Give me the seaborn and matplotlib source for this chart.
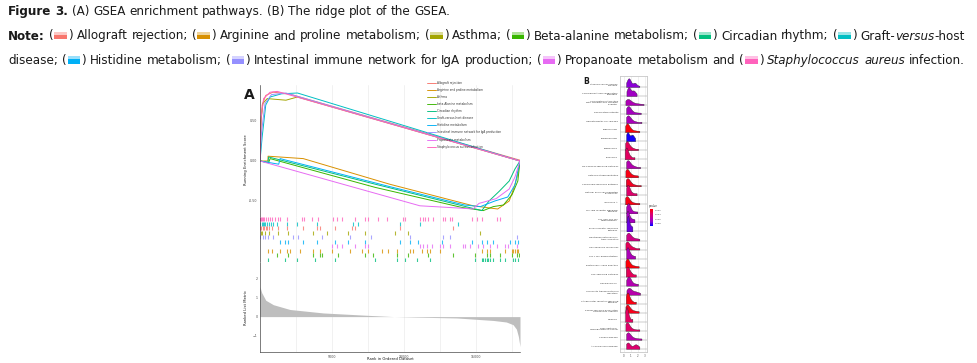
import matplotlib
matplotlib.use('Agg')
import matplotlib.pyplot as plt
import matplotlib.patches as mpatches
from matplotlib.lines import Line2D
from matplotlib.colors import LinearSegmentedColormap, Normalize, to_rgb
from matplotlib import font_manager
from matplotlib.font_manager import FontProperties
import seaborn as sns
import numpy as np
import pandas as pd

W, H = 977, 363
sns.set_theme(style='white')
plt.rcParams['font.family'] = ['DejaVu Sans']

# ---------------- data ----------------
GENE_SETS = ["Allograft rejection", "Arginine and proline metabolism", "Asthma",
             "beta-Alanine metabolism", "Circadian rhythm", "Graft-versus-host disease",
             "Histidine metabolism", "Intestinal immune network for IgA production",
             "Propanoate metabolism", "Staphylococcus aureus infection"]
SET_COLORS = ["#F8766D", "#D89000", "#A3A500", "#39B600", "#00BF7D",
              "#00BFC4", "#00B0F6", "#9590FF", "#E76BF3", "#FF62BC"]

# running enrichment score, (rank, ES)
ES_ALLOGRAFT = [(0, 0), (60, 0.45), (150, 0.70), (400, 0.82), (900, 0.86), (2000, 0.84), (18050, 0.01)]
ES_ARGININE = [(0, 0), (550, 0.0), (560, 0.06), (3000, 0.03), (9000, -0.29), (14800, -0.56),
               (16500, -0.60), (17300, -0.50), (17600, -0.35), (17850, -0.20), (18050, 0.0)]
ES_ASTHMA = [(0, 0), (70, 0.50), (200, 0.72), (500, 0.78), (1800, 0.76), (2600, 0.80), (18050, 0.0)]
ES_BETA_ALANINE = [(0, 0), (600, -0.02), (700, 0.03), (8000, -0.33), (14000, -0.58), (15500, -0.62),
                   (16200, -0.57), (16900, -0.55), (17500, -0.42), (17900, -0.25), (18050, 0.0)]
ES_CIRCADIAN = [(0, 0), (550, -0.02), (600, 0.05), (8000, -0.29), (14500, -0.58), (15400, -0.62),
                (15900, -0.50), (16600, -0.38), (17300, -0.25), (17700, -0.10), (18050, 0.0)]
ES_GRAFT = [(0, 0), (150, 0.30), (400, 0.70), (700, 0.80), (1500, 0.84), (2600, 0.85), (18050, 0.0)]
ES_HISTIDINE = [(0, 0), (1300, -0.04), (1400, 0.03), (9000, -0.32), (14200, -0.55), (15300, -0.57),
                (16300, -0.50), (17200, -0.45), (17700, -0.30), (18050, 0.0)]
ES_INTESTINAL = [(0, 0), (100, 0.35), (350, 0.72), (800, 0.83), (1800, 0.85), (18050, 0.0)]
ES_PROPANOATE = [(0, 0), (11100, -0.56), (14000, -0.59), (14800, -0.60), (15200, -0.53),
                 (16400, -0.47), (17300, -0.35), (17700, -0.20), (18050, 0.0)]
ES_STAPH = [(0, 0), (80, 0.55), (250, 0.78), (700, 0.86), (1200, 0.87), (18050, 0.0)]
ES_CURVES = [ES_ALLOGRAFT, ES_ARGININE, ES_ASTHMA, ES_BETA_ALANINE, ES_CIRCADIAN,
             ES_GRAFT, ES_HISTIDINE, ES_INTESTINAL, ES_PROPANOATE, ES_STAPH]

# gene hit positions (rank) per set
HITS_STAPH = [10, 70, 140, 210, 280, 420, 560, 690, 830, 1040, 1250, 1390, 1870, 2920, 3060, 3610, 4030,
              5070, 5350, 5700, 6600, 7290, 7500, 8190, 8820, 9930, 10070, 11110, 11320, 11460, 11670,
              12010, 12710, 12850, 13190, 13330, 14720, 15070, 15420, 16460, 16670]
HITS_GRAFT = [30, 120, 200, 300, 380, 480, 600, 750, 900, 1180, 1870, 2570, 3960, 6460, 6800, 9720,
              11110, 13750]
HITS_ALLOGRAFT = [20, 100, 190, 280, 400, 520, 650, 800, 1250, 1870, 2990, 3960, 4170, 5210, 6390, 6600,
                  9720, 13400]
HITS_ASTHMA = [40, 150, 330, 600, 1250, 1940, 3680, 4650, 6110, 7290, 9380, 10280, 15280]
HITS_INTESTINAL = [20, 180, 350, 560, 900, 2290, 2640, 4300, 6250, 7700, 10420, 12710, 13190, 17850]
HITS_HISTIDINE = [1400, 1740, 1940, 2990, 3960, 5210, 6110, 7290, 9720, 10420, 10970, 12640, 14720,
                  15420, 15760, 16180, 17360, 17710, 17920]
HITS_PROPANOATE = [5000, 5350, 5700, 6600, 7290, 7500, 11110, 11320, 11600, 11940, 12500, 12710, 13190,
                   14100, 14230, 14580, 15140, 15490, 15970, 16460, 17010, 17220, 17850]
HITS_ARGININE = [560, 830, 1390, 1870, 2080, 2780, 3680, 4170, 5000, 6250, 7080, 7500, 8470, 8890, 9510,
                 10420, 10620, 11250, 11600, 11800, 12500, 15420, 15760, 15970, 17010, 17500, 17570,
                 17710, 17850, 17920]
HITS_BETA_ALANINE = [1180, 1940, 3680, 4170, 4300, 5420, 7290, 7850, 9510, 10280, 11670, 13400, 14930,
                     15760, 15970, 16670, 17500, 17850, 18000]
HITS_CIRCADIAN = [560, 1740, 2570, 3820, 5210, 7990, 9510, 10070, 10900, 11800, 14930, 15420, 15490,
                  15620, 15760, 15830, 15970, 16180, 16670, 17010, 17570, 17710, 17920]
# rows top to bottom, as index into GENE_SETS
HIT_ROWS = [(9, HITS_STAPH), (5, HITS_GRAFT), (0, HITS_ALLOGRAFT), (2, HITS_ASTHMA),
            (7, HITS_INTESTINAL), (6, HITS_HISTIDINE), (8, HITS_PROPANOATE), (1, HITS_ARGININE),
            (3, HITS_BETA_ALANINE), (4, HITS_CIRCADIAN)]

# ranked list metric (rank, metric)
RANK_POS = [0, 115, 400, 925, 2080, 4400, 7400, 9300, 11000, 13660, 16200, 17100, 17570, 17800, 17940, 18050]
RANK_METRIC = [1.55, 1.25, 0.85, 0.62, 0.37, 0.19, 0.07, 0.0, -0.03, -0.07, -0.20, -0.28, -0.42,
               -0.65, -1.04, -1.56]

# ridge plot
PATHWAYS = ["Staphylococcus aureus\ninfection", "Complement and coagulation\ncascades",
            "Viral protein interaction\nwith cytokine and cytokine\nreceptor", "Rheumatoid arthritis",
            "Hematopoietic cell lineage", "Tuberculosis", "Leishmaniasis", "Phagosome", "Lysosome",
            "NF-kappa B signaling pathway", "Osteoclast differentiation", "Chemokine signaling pathway",
            "Natural killer cell mediated\ncytotoxicity", "Influenza A",
            "Toll-like receptor signaling\npathway", "Th1 and Th2 cell\ndifferentiation",
            "B cell receptor signaling\npathway", "Neutrophil extracellular\ntrap formation",
            "Cell adhesion molecules", "Th17 cell differentiation", "Epstein-Barr virus infection",
            "TNF signaling pathway", "Toxoplasmosis", "Leukocyte transendothelial\nmigration",
            "C-type lectin receptor signaling\npathway", "Kaposi sarcoma-associated\nherpesvirus infection",
            "Measles", "Transcriptional\nmisregulation in cancer", "Chagas disease",
            "Alcoholic liver disease"]
PVALUES = [0.0075, 0.0068, 0.0062, 0.0066, 0.0064, 0.0012, 0.0092, 0.0030, 0.0032, 0.0060,
           0.0015, 0.0018, 0.0035, 0.0014, 0.0062, 0.0066, 0.0080, 0.0045, 0.0030, 0.0063,
           0.0012, 0.0030, 0.0060, 0.0058, 0.0014, 0.0016, 0.0032, 0.0034, 0.0058, 0.0036]
CORE_FC = [
    [0.3, 0.45, 0.55, 0.6, 0.65, 0.7, 0.75, 0.8, 0.9, 1.0, 1.4, 1.5, 1.55, 1.7, 2.2],
    [0.35, 0.5, 0.6, 0.65, 0.7, 0.8, 0.9, 1.1, 1.3, 1.4, 1.5, 1.8],
    [0.2, 0.35, 0.45, 0.5, 0.6, 0.7, 0.9, 1.2, 1.6, 2.1, 2.8],
    [0.3, 0.45, 0.5, 0.55, 0.6, 0.7, 0.8, 1.0, 1.3, 1.8, 2.4],
    [0.3, 0.4, 0.5, 0.55, 0.6, 0.7, 0.9, 1.2, 1.7, 2.5],
    [0.15, 0.25, 0.3, 0.35, 0.4, 0.45, 0.5, 0.6, 0.7, 0.8, 1.0, 1.3, 1.7, 2.2],
    [0.3, 0.45, 0.5, 0.55, 0.6, 0.9, 1.1, 1.2, 1.3, 1.6],
    [0.15, 0.25, 0.3, 0.35, 0.4, 0.5, 0.6, 0.8, 1.0, 1.4, 2.0],
    [0.1, 0.2, 0.25, 0.3, 0.35, 0.45, 0.55, 0.7, 1.0, 1.5],
    [0.3, 0.4, 0.45, 0.5, 0.6, 0.7, 0.9, 1.2, 1.6, 2.3],
    [0.2, 0.3, 0.35, 0.4, 0.5, 0.6, 0.8, 1.1, 1.5, 2.0],
    [0.25, 0.35, 0.4, 0.45, 0.5, 0.6, 0.7, 0.9, 1.2, 1.7, 2.4],
    [0.3, 0.4, 0.5, 0.55, 0.6, 0.7, 0.9, 1.3, 1.8],
    [0.15, 0.25, 0.3, 0.35, 0.4, 0.5, 0.6, 0.8, 1.1, 1.6, 2.2],
    [0.3, 0.4, 0.5, 0.6, 0.65, 0.7, 0.8, 1.0, 1.4, 1.9],
    [0.3, 0.4, 0.45, 0.5, 0.6, 0.7, 0.9, 1.2, 1.5],
    [0.35, 0.45, 0.5, 0.55, 0.6, 0.7, 0.8, 1.0, 1.2],
    [0.3, 0.45, 0.5, 0.6, 0.7, 0.8, 1.0, 1.3, 1.7, 2.2],
    [0.2, 0.3, 0.35, 0.4, 0.5, 0.6, 0.8, 1.1, 1.5, 2.2],
    [0.3, 0.4, 0.45, 0.5, 0.6, 0.7, 0.9, 1.2, 1.6],
    [0.2, 0.3, 0.35, 0.4, 0.45, 0.5, 0.6, 0.7, 0.9, 1.2, 1.6, 2.1],
    [0.25, 0.35, 0.4, 0.5, 0.6, 0.7, 0.9, 1.2, 1.7],
    [0.3, 0.45, 0.55, 0.6, 0.7, 0.8, 0.9, 1.1, 1.5, 2.0],
    [0.35, 0.5, 0.6, 0.7, 0.8, 0.9, 1.1, 1.4, 1.6, 1.9, 2.3],
    [0.25, 0.35, 0.4, 0.5, 0.55, 0.6, 0.7, 0.9, 1.2, 1.7],
    [0.2, 0.3, 0.35, 0.4, 0.5, 0.6, 0.7, 0.9, 1.2, 1.6, 2.1],
    [0.15, 0.25, 0.3, 0.35, 0.4, 0.5, 0.6, 0.8, 1.2],
    [0.2, 0.3, 0.35, 0.4, 0.45, 0.55, 0.7, 1.0, 1.5, 2.2],
    [0.3, 0.4, 0.5, 0.55, 0.6, 0.7, 0.9, 1.3, 1.8, 2.5],
    [0.3, 0.45, 0.5, 0.55, 0.65, 0.8, 1.4, 1.6, 1.7, 1.8, 2.2],
]
PV_TICKS = [0.002, 0.004, 0.006, 0.008]

# ---------------- helpers ----------------
fig = plt.figure(figsize=(W / 100, H / 100), dpi=100)
fig.patch.set_facecolor('white')
renderer = fig.canvas.get_renderer()


def box(l, t, r, b):
    return [l / W, 1 - b / H, (r - l) / W, (b - t) / H]


def fx(x):
    return x / W


def fy(y):
    return 1 - y / H


# ---------------- caption ----------------
# prefer a narrow sans (the caption is set in a condensed face); fall back to Liberation Sans
def pick_caption_fonts():
    groups = {}
    for f in font_manager.fontManager.ttflist:
        narrow = ('Narrow' in f.name or 'Condensed' in f.name
                  or f.stretch in ('condensed', 'semi-condensed'))
        if narrow and 'Mono' not in f.name and 'Serif' not in f.name:
            groups.setdefault((f.name, f.stretch), []).append(f)
    for key in sorted(groups, key=lambda k: ('Liberation' not in k[0], 'DejaVu' not in k[0], k)):
        fl = groups[key]

        def find(bold, italic):
            for f in fl:
                w = f.weight if isinstance(f.weight, int) else (700 if 'bold' in str(f.weight) else 400)
                if (w >= 600) == bold and (f.style != 'normal') == italic:
                    return FontProperties(fname=f.fname)
            return None
        reg = find(False, False)
        if reg is not None:
            return {'n': reg, 'b': find(True, False) or reg, 'i': find(False, True) or reg}
    return {'n': FontProperties(family='Liberation Sans'),
            'b': FontProperties(family='Liberation Sans', weight='bold'),
            'i': FontProperties(family='Liberation Sans', style='italic')}


CAP_FP = pick_caption_fonts()


def fp_at(st, fs):
    p = CAP_FP[st].copy()
    p.set_size(fs)
    return p


def split_tokens(parts):
    out, space = [], False
    for p in parts:
        if p[0] == 'sw':
            out.append(('sw', p[1], space))
            space = False
            continue
        text, st = p
        for j, wd in enumerate(text.split(' ')):
            if j > 0:
                space = True
            if wd:
                out.append((st, wd, space))
                space = False
    return out


def text_w(s, st, fs):
    t = fig.text(0, 0, s, fontproperties=fp_at(st, fs))
    w = t.get_window_extent(renderer).width
    t.remove()
    return w


def line_width(parts, fs):
    toks = split_tokens(parts)
    sp = text_w('a a', 'n', fs) - text_w('aa', 'n', fs)
    sw = fs * 100 / 72 * 0.95 + 2
    ws = [sw if k == 'sw' else text_w(v, k, fs) for k, v, s in toks]
    return toks, ws, sp, sum(ws) + sp * sum(s for _, _, s in toks)


def caption_line(parts, y, x0, x1, fs, justify):
    toks, ws, sp, nat = line_width(parts, fs)
    nsp = sum(s for _, _, s in toks)
    gap = sp + (x1 - x0 - nat) / nsp if justify else sp
    x = x0
    px = fs * 100 / 72
    for (k, v, s), w in zip(toks, ws):
        if s:
            x += gap
        if k == 'sw':
            c = np.array(to_rgb(v))
            light = c + (1 - c) * 0.6
            fig.patches.append(mpatches.Rectangle((fx(x + 1), fy(y - 0.3)), (w - 2) / W, 0.33 * px / H,
                                                  transform=fig.transFigure, color=c, lw=0))
            fig.patches.append(mpatches.Rectangle((fx(x + 1), fy(y - 0.3 - 0.33 * px)), (w - 2) / W,
                                                  0.25 * px / H, transform=fig.transFigure, color=light,
                                                  lw=0))
        else:
            fig.text(fx(x), fy(y), v, fontproperties=fp_at(k, fs), va='baseline', ha='left',
                     color='#1a1a1a')
        x += w


LINE1 = [("Figure 3.", 'b'), (" (A) GSEA enrichment pathways. (B) The ridge plot of the GSEA.", 'n')]
LINE2 = [("Note:", 'b'), (" (", 'n'), ('sw', SET_COLORS[0]), (") Allograft rejection; (", 'n'),
         ('sw', SET_COLORS[1]), (") Arginine and proline metabolism; (", 'n'), ('sw', SET_COLORS[2]),
         (") Asthma; (", 'n'), ('sw', SET_COLORS[3]), (") Beta-alanine metabolism; (", 'n'),
         ('sw', SET_COLORS[4]), (") Circadian rhythm; (", 'n'), ('sw', SET_COLORS[5]), (") Graft-", 'n'),
         ("versus", 'i'), ("-host", 'n')]
LINE3 = [("disease; (", 'n'), ('sw', SET_COLORS[6]), (") Histidine metabolism; (", 'n'),
         ('sw', SET_COLORS[7]), (") Intestinal immune network for IgA production; (", 'n'),
         ('sw', SET_COLORS[8]), (") Propanoate metabolism and (", 'n'), ('sw', SET_COLORS[9]),
         (") ", 'n'), ("Staphylococcus aureus", 'i'), (" infection.", 'n')]

fs = 9.5
nat = max(line_width(LINE2, fs)[3], line_width(LINE3, fs)[3])
fs = min(fs, fs * 955 / nat)
caption_line(LINE1, 15, 8, 452, fs, False)
caption_line(LINE2, 39.5, 8, 965, fs, True)
caption_line(LINE3, 64, 8, 965, fs, True)

# ---------------- panel A ----------------
XMAX = 18050
TICK_FS = 2.3
pal = dict(zip(GENE_SETS, SET_COLORS))

ax_es = fig.add_axes(box(260, 85, 520, 217))
ax_hit = fig.add_axes(box(260, 217, 520, 262))
ax_rank = fig.add_axes(box(260, 262, 520, 352))

for ax in (ax_es, ax_hit, ax_rank):
    ax.set_xlim(0, XMAX)
    ax.set_facecolor('white')
    for v in range(2500, 18000, 2500):
        ax.axvline(v, color='#EBEBEB', lw=0.5, zorder=0)
    for sp_ in ('top', 'right', 'bottom'):
        ax.spines[sp_].set_visible(False)
    ax.spines['left'].set_color('#333333')
    ax.spines['left'].set_linewidth(0.45)
    ax.tick_params(axis='both', length=1.2, width=0.3, pad=0.6, labelsize=TICK_FS,
                   labelcolor='#4d4d4d', color='#333333')
    ax.set_xticks([])

es_df = pd.concat([pd.DataFrame({'rank': [p[0] for p in c], 'es': [p[1] for p in c], 'set': s})
                   for s, c in zip(GENE_SETS, ES_CURVES)], ignore_index=True)
sns.lineplot(data=es_df, x='rank', y='es', hue='set', palette=pal, estimator=None, sort=False,
             lw=0.7, legend=False, ax=ax_es)
ax_es.set_ylim(-0.70, 0.95)
ax_es.set_yticks([0.5, 0.0, -0.5])
ax_es.set_yticklabels(['0.50', '0.00', '-0.50'])
ax_es.set_xlabel('')
ax_es.set_ylabel('')
handles = [Line2D([0], [0], color=c, lw=0.65) for c in SET_COLORS]
leg = ax_es.legend(handles, GENE_SETS, loc='upper left', bbox_to_anchor=(0.643, 1.03), fontsize=2.1,
                   frameon=False, handlelength=3.0, handletextpad=0.4, labelspacing=1.05, borderaxespad=0,
                   borderpad=0)
for t in leg.get_texts():
    t.set_color('#333333')

for row, (idx, hits) in enumerate(HIT_ROWS):
    ax_hit.vlines(hits, row + 0.1, row + 0.9, color=SET_COLORS[idx], lw=0.8, alpha=0.8)
ax_hit.set_ylim(len(HIT_ROWS), 0)
ax_hit.set_yticks([])

ax_rank.fill_between(RANK_POS, RANK_METRIC, 0, color='#BEBEBE', lw=0)
ax_rank.set_ylim(-1.84, 2.84)
ax_rank.set_yticks([2, 1, 0, -1])
ax_rank.spines['bottom'].set_visible(True)
ax_rank.spines['bottom'].set_color('#333333')
ax_rank.spines['bottom'].set_linewidth(0.45)
ax_rank.set_xticks([5000, 10000, 15000])

fig.text(fx(246.5), fy(160), 'Running Enrichment Score', rotation=90, ha='center', va='center',
         fontsize=2.7, color='#1a1a1a')
fig.text(fx(246.5), fy(307), 'Ranked List Metric', rotation=90, ha='center', va='center',
         fontsize=2.7, color='#1a1a1a')
fig.text(fx(390), fy(359), 'Rank in Ordered Dataset', ha='center', va='center', fontsize=2.7,
         color='#1a1a1a')
fig.text(fx(249), fy(95), 'A', ha='center', va='center', fontsize=10, weight='bold', color='#1a1a1a')

# ---------------- panel B ----------------
SPACING = 9.03
BASE0 = 87
XL = (-0.57, 3.29)
cmap = LinearSegmentedColormap.from_list('pv', ["#FF0000", "#E3005F", "#C3009C", "#9300D2", "#0000FF"])
norm = Normalize(0.001, 0.0095)

ax_bg = fig.add_axes(box(620, 76, 647, 352))
ax_bg.set_xlim(*XL)
ax_bg.set_ylim(352, 76)
ax_bg.set_xticks([0, 1, 2, 3])
ax_bg.set_yticks([])
ax_bg.tick_params(axis='x', length=0.8, width=0.3, pad=0.8, labelsize=1.9, labelcolor='#4d4d4d',
                  color='#666666')
for v in [0, 1, 2, 3]:
    ax_bg.axvline(v, color='#E5E5E5', lw=0.4, zorder=0)
for s in ax_bg.spines.values():
    s.set_color('#C8C8C8')
    s.set_linewidth(0.6)

for i, (name, vals, pv) in enumerate(zip(PATHWAYS, CORE_FC, PVALUES)):
    base = BASE0 + i * SPACING
    ax_bg.hlines(base, XL[0], XL[1], color='#9A9A9A', lw=0.35, zorder=1)
    ax_r = fig.add_axes(box(620, base - 2.6 * SPACING, 647, base))
    ax_r.patch.set_alpha(0)
    sns.kdeplot(x=vals, ax=ax_r, fill=True, cut=0, bw_adjust=0.75, color=cmap(norm(pv)), alpha=1,
                edgecolor='#222222', linewidth=0.25)
    ax_r.set_xlim(*XL)
    ax_r.set_ylim(0, 2.3)
    ax_r.axis('off')
    fig.text(fx(618), fy(base - 2.2), name, ha='right', va='center', fontsize=1.7, color='#333333',
             linespacing=1.0)

fig.text(fx(586), fy(82), 'B', ha='center', va='center', fontsize=5.5, weight='bold', color='#1a1a1a')

cax = fig.add_axes(box(650, 209, 653, 226))
cb = fig.colorbar(plt.cm.ScalarMappable(norm=norm, cmap=cmap), cax=cax, ticks=PV_TICKS)
cax.invert_yaxis()
cb.outline.set_visible(False)
cax.tick_params(length=0.6, width=0.3, pad=0.6, labelsize=1.7, labelcolor='#4d4d4d', color='white')
fig.text(fx(648.5), fy(206.5), 'pvalue', ha='left', va='center', fontsize=1.9, color='#333333')

fig.savefig('out.png', dpi=100, facecolor='white')
